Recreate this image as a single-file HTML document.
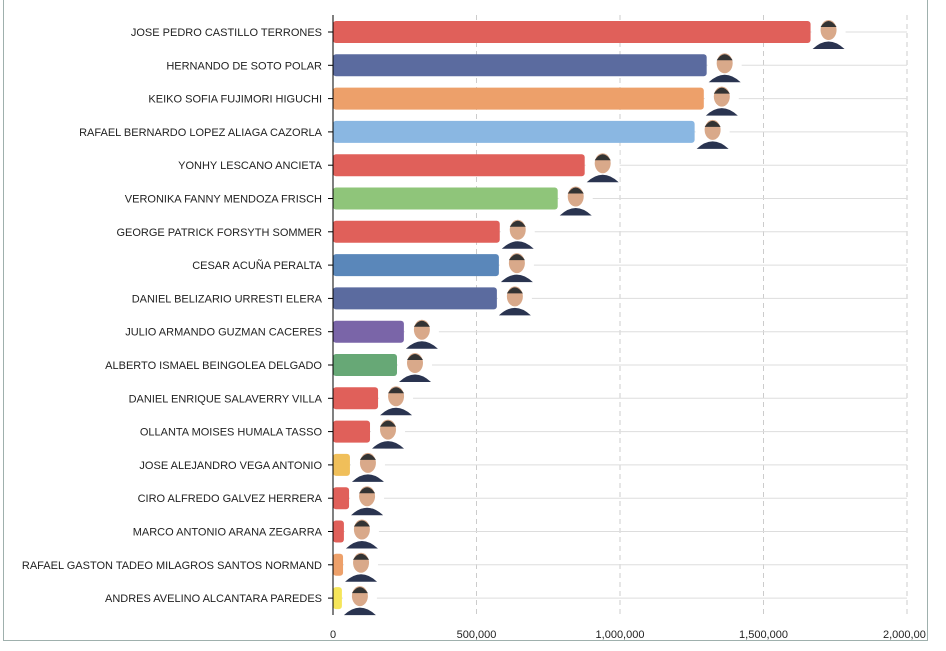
<!DOCTYPE html>
<html><head><meta charset="utf-8"><style>
body{margin:0;background:#fff;width:946px;height:651px;overflow:hidden;font-family:"Liberation Sans",sans-serif}
#frame{position:absolute;left:3px;top:-2px;width:925px;height:643px;border:1px solid #9fb0ad;box-sizing:border-box}
</style></head><body>
<div id="frame"></div>
<svg id="chart" width="946" height="651" style="position:absolute;left:0;top:0"></svg>
<script>
const names=["JOSE PEDRO CASTILLO TERRONES","HERNANDO DE SOTO POLAR","KEIKO SOFIA FUJIMORI HIGUCHI","RAFAEL BERNARDO LOPEZ ALIAGA CAZORLA","YONHY LESCANO ANCIETA","VERONIKA FANNY MENDOZA FRISCH","GEORGE PATRICK FORSYTH SOMMER","CESAR ACUÑA PERALTA","DANIEL BELIZARIO URRESTI ELERA","JULIO ARMANDO GUZMAN CACERES","ALBERTO ISMAEL BEINGOLEA DELGADO","DANIEL ENRIQUE SALAVERRY VILLA","OLLANTA MOISES HUMALA TASSO","JOSE ALEJANDRO VEGA ANTONIO","CIRO ALFREDO GALVEZ HERRERA","MARCO ANTONIO ARANA ZEGARRA","RAFAEL GASTON TADEO MILAGROS SANTOS NORMAND","ANDRES AVELINO ALCANTARA PAREDES"];
const votes=[1664000,1302000,1292000,1260000,877000,783000,581000,578000,571000,247000,223000,157000,129000,59000,56000,38000,35000,31000];
const colors=["#e0605a","#5b6b9f","#eda06a","#8ab7e2","#e0605a","#8fc57a","#e0605a","#5a87ba","#5b6b9f","#7a65a8","#67a876","#e0605a","#e0605a","#f0bf5a","#e0605a","#e0605a","#eda06a","#f5e55a"];
const ticks=[0,500000,1000000,1500000,2000000];
const tickLabels=["0","500,000","1,000,000","1,500,000","2,000,00"];
const svg=document.getElementById('chart');const NS="http://www.w3.org/2000/svg";
const x0=333,x1=907,maxV=2000000;
const xs=v=>x0+(v/maxV)*(x1-x0);
const y0=32,step=33.3;
const ys=i=>y0+i*step;
function el(t,a,p){const e=document.createElementNS(NS,t);for(const k in a)e.setAttribute(k,a[k]);(p||svg).appendChild(e);return e;}
ticks.forEach((t,i)=>{
 if(i>0){const g=el('line',{x1:xs(t),x2:xs(t),y1:15,y2:615,stroke:'#ccc','stroke-dasharray':'5,4'});
 
 }
 const tx=el('text',{x:xs(t),y:638,'text-anchor':i==4?'start':'middle','font-size':11,fill:'#222'});
 if(i==4)tx.setAttribute('x',xs(t)-24);
 tx.textContent=tickLabels[i];
 
 
});
names.forEach((n,i)=>{
 const y=ys(i);
 const gl=el('line',{x1:x0,x2:x1,y1:y,y2:y,stroke:'#ddd'});
 
 
 const tk=el('line',{x1:x0-5,x2:x0,y1:y,y2:y,stroke:'#000'});
 
 
 const lb=el('text',{x:322,y:y+4,'text-anchor':'end','font-size':11,fill:'#222'});
 lb.textContent=n;
 
 
 const w=xs(votes[i])-x0;
 const b=el('rect',{x:x0,y:y-11,width:w,height:22,rx:3,fill:colors[i]});
 
 
 const px=xs(votes[i])+18;
 const g=el('g',{});
 
 
 el('rect',{x:px-17,y:y-16,width:34,height:34,fill:'#fff'},g);
 el('path',{d:`M${px-16} ${y+17} Q${px} ${y+2} ${px+16} ${y+17}Z`,fill:'#2a3450'},g);
 el('ellipse',{cx:px,cy:y-2,rx:8,ry:10,fill:'#d9a98a'},g);
 el('path',{d:`M${px-8} ${y-5} Q${px} ${y-17} ${px+8} ${y-5}Z`,fill:'#333'},g);
});
const ax=el('line',{x1:x0,x2:x0,y1:15,y2:615,stroke:'#000'});


</script>
</body></html>
